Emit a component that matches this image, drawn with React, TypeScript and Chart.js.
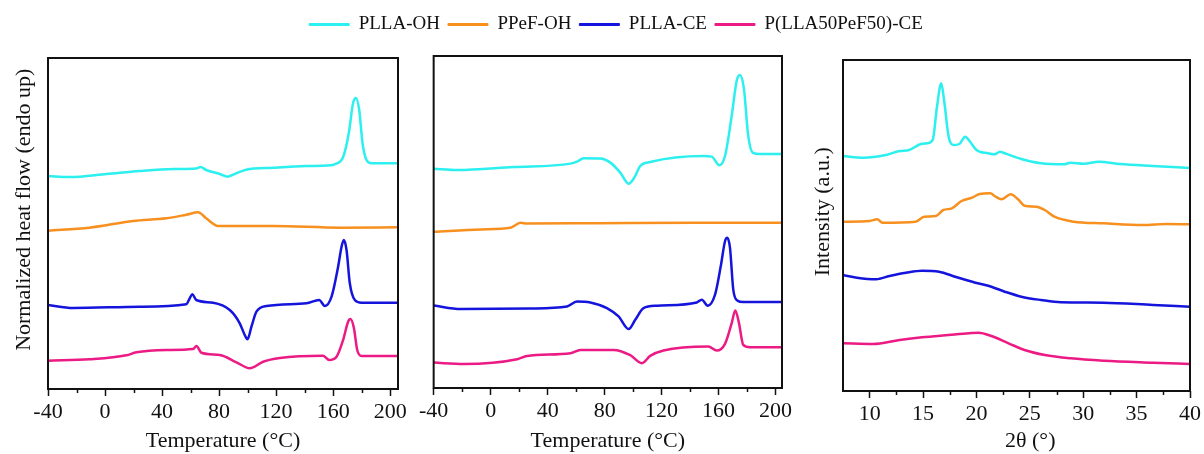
import React, { useEffect, useRef } from 'react';
import { Chart, registerables } from 'chart.js';

Chart.register(...registerables);

const FONT = "'Liberation Serif', 'Times New Roman', serif";
const TEXT_COLOR = '#111111';

const SERIES_NAMES = ['PLLA-OH', 'PPeF-OH', 'PLLA-CE', 'P(LLA50PeF50)-CE'];
const SERIES_COLORS = ['#2CEFEF', '#F7901E', '#1414DC', '#EC1A84'];

const DSC_MAJOR_TICKS = [-40, 0, 40, 80, 120, 160, 200];
const DSC_MINOR_TICKS = [-20, 20, 60, 100, 140, 180];
const XRD_MAJOR_TICKS = [10, 15, 20, 25, 30, 35, 40];
const XRD_MINOR_TICKS = [12.5, 17.5, 22.5, 27.5, 32.5, 37.5];

// ---- DSC panel 1 (first heating) : temperature (°C) / heat flow (a.u., endo up) ----
const DSC1_PLLA_OH_T = [-40, -25, 1, 24, 48, 64, 67, 71, 80.5, 86, 92, 99, 118, 141, 158, 161, 167, 171, 174, 176, 178.3, 180.6, 183.4, 187, 205];
const DSC1_PLLA_OH_Y = [213, 212, 215, 218, 220, 220.5, 222, 219, 215, 212.3, 215.7, 219.3, 221.3, 223, 223.7, 224.7, 232, 256, 286, 291, 279, 246, 229, 225.7, 225.7];
const DSC1_PPEF_OH_T = [-40, -11, 19.6, 43, 57, 65.3, 71, 79.3, 118, 165, 205];
const DSC1_PPEF_OH_Y = [158.3, 161.3, 168, 170.7, 174.3, 176.7, 170.7, 163, 163, 161.3, 161.7];
const DSC1_PLLA_CE_T = [-40, -22.5, 24.4, 57, 59.4, 61.3, 64, 75.8, 87.5, 94.5, 98, 99.9, 102.7, 106.2, 113.3, 141.3, 150.2, 154.2, 158.9, 163.5, 165.9, 167.5, 169.4, 171.7, 175.2, 179.9, 205];
const DSC1_PLLA_CE_Y = [84, 81, 82.3, 84.7, 90.7, 94.7, 89, 86.3, 79, 65.7, 54, 49.7, 62.3, 77.3, 83, 85.7, 89, 83, 92.3, 122.3, 142.3, 149, 139, 105.7, 89, 86.3, 86.3];
const DSC1_BLEND_CE_T = [-40, -10.7, 15, 22, 43, 61.8, 64.1, 67.6, 80.5, 92.2, 101.5, 110.9, 122.6, 153, 157.2, 162.4, 167, 170.5, 172.2, 174.6, 176.9, 179.9, 205];
const DSC1_BLEND_CE_Y = [28.3, 29.7, 33.7, 36.7, 39, 40, 43, 36.3, 34, 26.7, 20.7, 27.3, 31, 33.3, 29, 32.3, 49, 67.3, 70, 60.7, 39, 33, 33];

// ---- DSC panel 2 (second heating) ----
const DSC2_PLLA_OH_T = [-40, -23.4, 16, 56, 60.6, 65.3, 77, 84, 91, 96.8, 100.8, 105, 112, 149.3, 155.2, 160.5, 164.5, 169.2, 172.7, 175, 177.8, 180.8, 183.9, 189, 205];
const DSC2_PLLA_OH_Y = [218.7, 217.3, 220.3, 223.7, 225.7, 229, 228.7, 224.7, 214.7, 203.7, 209.7, 221.3, 225.3, 231.3, 230.7, 222, 231.3, 271.3, 306.3, 312, 298, 251.3, 234.7, 233.3, 233.3];
const DSC2_PPEF_OH_T = [-40, -7, 14, 21, 25.6, 75, 145, 205];
const DSC2_PPEF_OH_Y = [155.7, 158, 159.7, 164.7, 164, 164.3, 164.7, 164.7];
const DSC2_PLLA_CE_T = [-40, -21, 28, 53.6, 60.6, 70, 81.6, 89.8, 96.8, 101.5, 107.3, 116.7, 144.7, 148.2, 152.4, 157.5, 161.5, 164.5, 166.1, 168, 170.3, 173.1, 177.3, 205];
const DSC2_PLLA_CE_Y = [82.3, 78.7, 79.3, 81.3, 86.3, 85.3, 79.7, 71.3, 58.7, 68, 79.7, 82, 85.3, 88, 82, 93, 121.3, 146.3, 149.7, 139.7, 98, 87.3, 85.7, 85.7];
const DSC2_BLEND_CE_T = [-40, -18.8, 18.6, 25.6, 56, 63, 86.3, 98, 106.2, 112, 121.3, 152.8, 158.7, 164.5, 169.2, 171.7, 174.3, 177.3, 182, 205];
const DSC2_BLEND_CE_Y = [25.3, 24, 28.7, 32, 34.7, 38, 38, 32.7, 24.7, 32, 37.3, 41.3, 37.3, 44, 64.7, 77.3, 64.7, 43, 40.7, 40.7];

// ---- XRD panel : 2θ (°) / intensity (a.u.) ----
const XRD_PLLA_OH_X = [7.5, 9.4, 11.5, 12.8, 13.7, 14.8, 15.4, 15.9, 16.3, 16.7, 17.0, 17.4, 17.9, 18.4, 18.95, 19.4, 20.0, 21.1, 21.7, 22.2, 22.65, 24.2, 26.05, 28.2, 28.8, 30.06, 31.45, 33.45, 36.5, 40];
const XRD_PLLA_OH_Y = [235, 233.3, 236, 240, 241, 247, 247.7, 251, 284, 307.7, 288, 254, 246, 247, 254.3, 249.3, 241, 237.7, 236.7, 239.3, 237.7, 232, 227.7, 226.7, 228.3, 227.3, 229.3, 227, 225, 223];
const XRD_PPEF_OH_X = [7.5, 10, 10.7, 11.2, 14.3, 15.1, 16.2, 16.9, 17.7, 18.6, 19.6, 20.3, 21.3, 21.7, 22.35, 23.2, 23.9, 24.5, 25.6, 26.4, 27.3, 29.1, 31.9, 35.6, 37.8, 40];
const XRD_PPEF_OH_Y = [169.3, 170, 171.7, 168.3, 169.3, 174.3, 175, 181, 182.7, 190, 193.3, 197, 197.7, 195, 191.7, 196.7, 191.7, 185.3, 184.3, 181, 174.3, 169.3, 167.7, 166, 167, 166.7];
const XRD_PLLA_CE_X = [7.5, 8.8, 10.6, 11.85, 13.4, 14.9, 16.5, 18.0, 19.9, 21.1, 22.65, 24.2, 26.05, 27.9, 31.9, 36.55, 40];
const XRD_PLLA_CE_Y = [116, 113.3, 111.7, 115, 118.3, 120.3, 119.3, 114.3, 108.3, 105.3, 99.3, 94.3, 91, 88.7, 88.3, 86, 84.3];
const XRD_BLEND_CE_X = [7.5, 10.3, 12.8, 14.9, 17.4, 19.3, 20.2, 21.4, 23.0, 24.5, 26.4, 28.8, 31.9, 36.55, 40];
const XRD_BLEND_CE_Y = [47.7, 47, 51, 53.7, 56, 57.7, 58.3, 55, 47.7, 41, 36, 32.7, 30.3, 28.3, 27];

const Y_MAX = 331;

const framePlugin = {
  id: 'frame',
  afterDraw(chart: any, _args: any, opts: any) {
    const { ctx, chartArea: a, scales } = chart;
    ctx.save();
    ctx.strokeStyle = opts.color;
    ctx.lineWidth = opts.width;
    ctx.strokeRect(a.left, a.top, a.right - a.left, a.bottom - a.top);
    const xs = scales.x;
    ctx.lineWidth = opts.tickWidth;
    ctx.beginPath();
    for (const v of opts.minor) {
      const px = Math.round(xs.getPixelForValue(v)) + 0.5;
      ctx.moveTo(px, a.bottom);
      ctx.lineTo(px, a.bottom + opts.minorLength);
    }
    ctx.stroke();
    ctx.restore();
  },
};

type Panel = {
  series: { x: number[]; y: number[] }[];
  xMin: number;
  xMax: number;
  majors: number[];
  minors: number[];
  xTitle: string;
  yTitle: string;
  yTitlePad: number;
  top: number;
  right: number;
  yAxisWidth: number;
  xAxisHeight: number;
};

function makeConfig(p: Panel): any {
  return {
    type: 'line',
    data: {
      datasets: p.series.map((s, i) => ({
        label: SERIES_NAMES[i],
        data: s.x.map((x, j) => ({ x, y: s.y[j] })),
        borderColor: SERIES_COLORS[i],
        backgroundColor: SERIES_COLORS[i],
        borderWidth: 2.5,
        pointRadius: 0,
        cubicInterpolationMode: 'monotone',
        fill: false,
      })),
    },
    options: {
      responsive: false,
      animation: false,
      events: [],
      layout: { padding: { top: p.top, right: p.right, bottom: 0, left: 0 } },
      plugins: {
        legend: { display: false },
        tooltip: { enabled: false },
        frame: { color: TEXT_COLOR, width: 2, tickWidth: 1.5, minor: p.minors, minorLength: 4 },
      },
      scales: {
        x: {
          type: 'linear',
          min: p.xMin,
          max: p.xMax,
          afterBuildTicks: (s: any) => {
            s.ticks = p.majors.map((v) => ({ value: v }));
          },
          afterFit: (s: any) => {
            s.height = p.xAxisHeight;
          },
          ticks: {
            autoSkip: false,
            maxRotation: 0,
            padding: 3,
            color: TEXT_COLOR,
            font: { family: FONT, size: 22 },
            callback: (v: any) => String(v),
          },
          grid: {
            display: true,
            drawOnChartArea: false,
            drawTicks: true,
            tickLength: 7,
            tickWidth: 1.5,
            tickColor: TEXT_COLOR,
          },
          border: { display: false },
          title: {
            display: true,
            text: p.xTitle,
            color: TEXT_COLOR,
            font: { family: FONT, size: 22 },
            padding: { top: 0, bottom: 0 },
          },
        },
        y: {
          type: 'linear',
          min: 0,
          max: Y_MAX,
          afterFit: (s: any) => {
            s.width = p.yAxisWidth;
          },
          ticks: { display: false },
          grid: { display: false },
          border: { display: false },
          title: {
            display: p.yTitle.length > 0,
            text: p.yTitle,
            color: TEXT_COLOR,
            font: { family: FONT, size: 22 },
            padding: { top: p.yTitlePad, bottom: 0 },
          },
        },
      },
    },
    plugins: [framePlugin],
  };
}

const NB = '\u00A0\u00A0\u00A0\u00A0\u00A0';

const PANELS: { left: number; width: number; panel: Panel }[] = [
  {
    left: 0,
    width: 416,
    panel: {
      series: [
        { x: DSC1_PLLA_OH_T, y: DSC1_PLLA_OH_Y },
        { x: DSC1_PPEF_OH_T, y: DSC1_PPEF_OH_Y },
        { x: DSC1_PLLA_CE_T, y: DSC1_PLLA_CE_Y },
        { x: DSC1_BLEND_CE_T, y: DSC1_BLEND_CE_Y },
      ],
      xMin: -40,
      xMax: 205.5,
      majors: DSC_MAJOR_TICKS,
      minors: DSC_MINOR_TICKS,
      xTitle: 'Temperature (°C)',
      yTitle: NB + 'Normalized heat flow (endo up)',
      yTitlePad: 11,
      top: 58,
      right: 18,
      yAxisWidth: 48,
      xAxisHeight: 65,
    },
  },
  {
    left: 416,
    width: 386,
    panel: {
      series: [
        { x: DSC2_PLLA_OH_T, y: DSC2_PLLA_OH_Y },
        { x: DSC2_PPEF_OH_T, y: DSC2_PPEF_OH_Y },
        { x: DSC2_PLLA_CE_T, y: DSC2_PLLA_CE_Y },
        { x: DSC2_BLEND_CE_T, y: DSC2_BLEND_CE_Y },
      ],
      xMin: -40,
      xMax: 204.5,
      majors: DSC_MAJOR_TICKS,
      minors: DSC_MINOR_TICKS,
      xTitle: 'Temperature (°C)',
      yTitle: '',
      yTitlePad: 0,
      top: 56,
      right: 20,
      yAxisWidth: 17,
      xAxisHeight: 66,
    },
  },
  {
    left: 802,
    width: 402,
    panel: {
      series: [
        { x: XRD_PLLA_OH_X, y: XRD_PLLA_OH_Y },
        { x: XRD_PPEF_OH_X, y: XRD_PPEF_OH_Y },
        { x: XRD_PLLA_CE_X, y: XRD_PLLA_CE_Y },
        { x: XRD_BLEND_CE_X, y: XRD_BLEND_CE_Y },
      ],
      xMin: 7.5,
      xMax: 40,
      majors: XRD_MAJOR_TICKS,
      minors: XRD_MINOR_TICKS,
      xTitle: NB + '2θ (°)',
      yTitle: NB + 'Intensity (a.u.)',
      yTitlePad: 8,
      top: 60,
      right: 10,
      yAxisWidth: 41,
      xAxisHeight: 63,
    },
  },
];

function legendConfig(): any {
  return {
    type: 'line',
    data: {
      datasets: SERIES_NAMES.map((n, i) => ({
        label: n,
        data: [],
        borderColor: SERIES_COLORS[i],
        backgroundColor: SERIES_COLORS[i],
        borderWidth: 1,
      })),
    },
    options: {
      responsive: false,
      animation: false,
      events: [],
      layout: { padding: { left: 28, top: 7 } },
      scales: { x: { display: false }, y: { display: false } },
      plugins: {
        tooltip: { enabled: false },
        legend: {
          display: true,
          position: 'top',
          align: 'center',
          maxHeight: 60,
          labels: {
            boxWidth: 40,
            boxHeight: 2,
            padding: 8,
            color: TEXT_COLOR,
            font: { family: FONT, size: 19 },
          },
        },
      },
    },
  };
}

function ChartCanvas(props: { config: () => any; left: number; top: number; width: number; height: number }) {
  const ref = useRef<HTMLCanvasElement>(null);
  useEffect(() => {
    if (!ref.current) return;
    const chart = new Chart(ref.current, props.config());
    return () => chart.destroy();
  }, []);
  return (
    <canvas
      ref={ref}
      width={props.width}
      height={props.height}
      style={{ position: 'absolute', left: props.left, top: props.top, width: props.width, height: props.height }}
    />
  );
}

export default function App() {
  return (
    <div style={{ position: 'absolute', left: 0, top: 0, width: 1204, height: 454, overflow: 'hidden', background: '#ffffff' }}>
      {PANELS.map((p, i) => (
        <ChartCanvas key={i} config={() => makeConfig(p.panel)} left={p.left} top={0} width={p.width} height={454} />
      ))}
      <ChartCanvas config={legendConfig} left={0} top={0} width={1204} height={120} />
    </div>
  );
}
